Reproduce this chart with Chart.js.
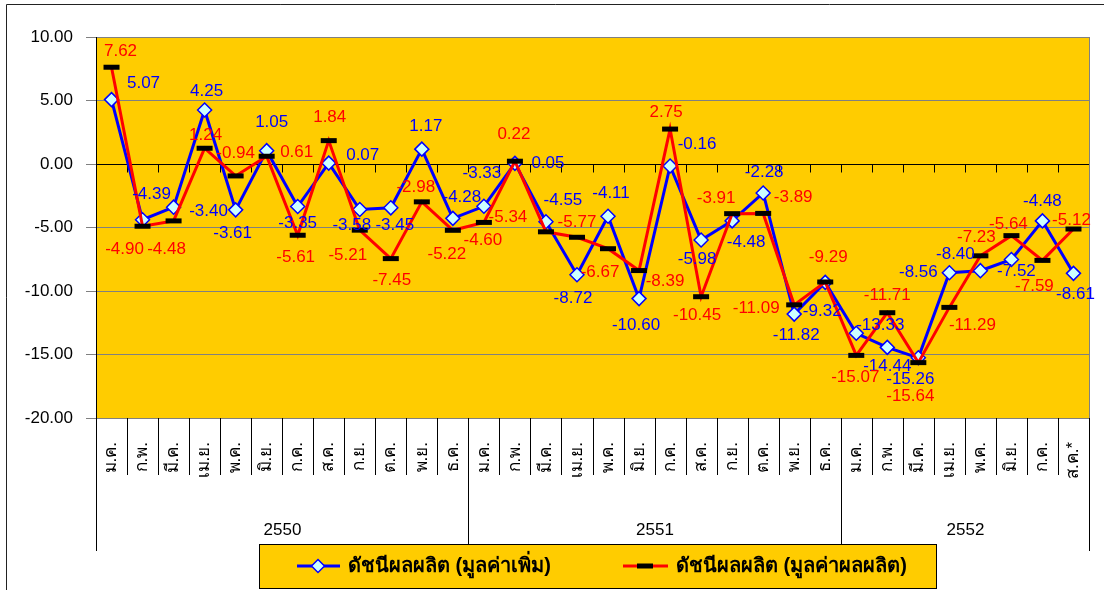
<!DOCTYPE html>
<html>
<head>
<meta charset="utf-8">
<title>ดัชนีผลผลิต</title>
<script src="https://cdn.jsdelivr.net/npm/chart.js@4/dist/chart.umd.min.js"></script>
<style>
    body { margin: 0; background: #fff; }
    #wrap { width: 1104px; height: 590px; }
</style>
</head>
<body>
<div id="wrap"><canvas id="chart" width="1104" height="590"></canvas></div>
<script>
// Categories: months of 2550, 2551 and 2552 (up to Aug, preliminary)
const months = [
    'ม.ค.', 'ก.พ.', 'มี.ค.', 'เม.ย.', 'พ.ค.', 'มิ.ย.', 'ก.ค.', 'ส.ค.', 'ก.ย.', 'ต.ค.', 'พ.ย.', 'ธ.ค.',
    'ม.ค.', 'ก.พ.', 'มี.ค.', 'เม.ย.', 'พ.ค.', 'มิ.ย.', 'ก.ค.', 'ส.ค.', 'ก.ย.', 'ต.ค.', 'พ.ย.', 'ธ.ค.',
    'ม.ค.', 'ก.พ.', 'มี.ค.', 'เม.ย.', 'พ.ค.', 'มิ.ย.', 'ก.ค.', 'ส.ค.*'
];
const years = ['2550', '2551', '2552'];
const monthsPerYear = [12, 12, 8];

// ดัชนีผลผลิต (มูลค่าเพิ่ม)
const valueAdded = [
    5.07, -4.39, -3.40, 4.25, -3.61, 1.05, -3.35, 0.07, -3.58, -3.45, 1.17, -4.28,
    -3.33, 0.05, -4.55, -8.72, -4.11, -10.60, -0.16, -5.98, -4.48, -2.28, -11.82, -9.32,
    -13.33, -14.44, -15.26, -8.56, -8.40, -7.52, -4.48, -8.61
];
// ดัชนีผลผลิต (มูลค่าผลผลิต)
const outputValue = [
    7.62, -4.90, -4.48, 1.24, -0.94, 0.61, -5.61, 1.84, -5.21, -7.45, -2.98, -5.22,
    -4.60, 0.22, -5.34, -5.77, -6.67, -8.39, 2.75, -10.45, -3.91, -3.89, -11.09, -9.29,
    -15.07, -11.71, -15.64, -11.29, -7.23, -5.64, -7.59, -5.12
];

const seriesNames = ['ดัชนีผลผลิต (มูลค่าเพิ่ม)', 'ดัชนีผลผลิต (มูลค่าผลผลิต)'];
const yMin = -20, yMax = 10, yStep = 5;

// where each value label sits relative to its point (px), as placed in the original
const blueLabelShift = [
    [32, -16], [9, -25], [35, 4], [2, -19], [-3, 23], [5, -28], [0, 17], [34, -8],
    [-8, 16], [4, 17], [4, -23], [9, -21], [-2, -33], [33, 0], [17, -21], [-4, 24],
    [3, -23], [-3, 27], [27, -22], [-4, 19], [14, 21], [1, -21], [2, 21], [-3, 29],
    [24, -8], [0, 19], [-8, 22], [-31, 0], [-25, -16], [5, 12], [0, -20], [2, 21]
];
const redLabelShift = [
    [9, -16], [-18, 23], [-7, 28], [1, -13], [0, -23], [30, -4], [-2, 22], [1, -23],
    [-12, 25], [1, 22], [-6, -15], [-6, 24], [-1, 18], [-1, -27], [-38, -15], [0, -15],
    [-8, 24], [26, 11], [-4, -17], [-4, 19], [-16, -15], [30, -16], [-38, 3], [3, -25],
    [-1, 22], [0, -17], [-8, 34], [23, 18], [-4, -19], [-3, -11], [-8, 26], [-2, -9]
];

const FONT = "'Liberation Sans', Arial, Tahoma, sans-serif";
const BLUE = '#0000FF';
const RED = '#FF0000';
const PLOT_BG = '#FFCC00';

function catStep(x) {
    return x.getPixelForValue(1) - x.getPixelForValue(0);
}

const plotBackground = {
    id: 'plotBackground',
    beforeDraw(chart) {
        const { ctx, chartArea: a } = chart;
        ctx.save();
        ctx.fillStyle = '#fff';
        ctx.fillRect(0, 0, chart.width, chart.height);
        ctx.fillStyle = PLOT_BG;
        ctx.fillRect(a.left, a.top, a.right - a.left, a.bottom - a.top);
        ctx.restore();
    },
    beforeDatasetsDraw(chart) {
        const { ctx, chartArea: a, scales: { x, y } } = chart;
        const step = catStep(x);
        const y0 = Math.round(y.getPixelForValue(0)) + 0.5;
        ctx.save();
        // right edge of plot
        ctx.strokeStyle = '#808080';
        ctx.lineWidth = 1;
        ctx.beginPath();
        ctx.moveTo(Math.round(a.right) + 0.5, a.top);
        ctx.lineTo(Math.round(a.right) + 0.5, a.bottom);
        ctx.stroke();
        // category ticks hanging on the zero line
        ctx.strokeStyle = '#000';
        ctx.beginPath();
        for (let i = 1; i < months.length; i++) {
            const px = Math.round(x.getPixelForValue(0) + (i - 0.5) * step) + 0.5;
            ctx.moveTo(px, y0);
            ctx.lineTo(px, y0 + 8);
        }
        ctx.stroke();
        ctx.restore();
    }
};

const valueLabels = {
    id: 'valueLabels',
    afterDatasetsDraw(chart) {
        const { ctx } = chart;
        const shifts = [blueLabelShift, redLabelShift];
        const colors = [BLUE, RED];
        ctx.save();
        ctx.font = '17px ' + FONT;
        ctx.textAlign = 'center';
        ctx.textBaseline = 'middle';
        [0, 1].forEach(di => {
            const meta = chart.getDatasetMeta(di);
            ctx.fillStyle = colors[di];
            meta.data.forEach((pt, i) => {
                const v = chart.data.datasets[di].data[i];
                const s = shifts[di][i];
                ctx.fillText(v.toFixed(2), pt.x + s[0], pt.y + s[1]);
            });
        });
        ctx.restore();
    }
};

const categoryAxis = {
    id: 'categoryAxis',
    afterDraw(chart) {
        const { ctx, chartArea: a, scales: { x } } = chart;
        const step = catStep(x);
        const first = x.getPixelForValue(0) - step / 2;
        const edge = i => Math.round(first + i * step) + 0.5;
        const yearEdges = [0];
        monthsPerYear.forEach(n => yearEdges.push(yearEdges[yearEdges.length - 1] + n));

        ctx.save();
        ctx.strokeStyle = '#000';
        ctx.lineWidth = 1;
        ctx.beginPath();
        for (let i = 0; i <= months.length; i++) {
            const px = i === months.length ? Math.round(a.right) + 0.5 : edge(i);
            const long = yearEdges.includes(i);
            ctx.moveTo(px, a.bottom);
            ctx.lineTo(px, long ? 551 : 475);
        }
        ctx.stroke();

        // month names, rotated
        ctx.fillStyle = '#000';
        ctx.font = '17px ' + FONT;
        ctx.textAlign = 'right';
        ctx.textBaseline = 'middle';
        months.forEach((m, i) => {
            ctx.save();
            ctx.translate(x.getPixelForValue(i), 442);
            ctx.rotate(-Math.PI / 2);
            ctx.fillText(m, 0, 0);
            ctx.restore();
        });

        // year row
        ctx.font = '17px ' + FONT;
        ctx.textAlign = 'center';
        years.forEach((yr, k) => {
            const cx = (edge(yearEdges[k]) + edge(yearEdges[k + 1])) / 2;
            ctx.fillText(yr, cx, 530);
        });

        // outer chart frame
        ctx.strokeStyle = '#222';
        ctx.beginPath();
        ctx.moveTo(6.5, chart.height);
        ctx.lineTo(6.5, 4.5);
        ctx.lineTo(chart.width, 4.5);
        ctx.stroke();
        ctx.restore();
    }
};

const boxLegend = {
    id: 'boxLegend',
    afterDraw(chart) {
        const { ctx } = chart;
        const ly = 566;
        ctx.save();
        ctx.fillStyle = PLOT_BG;
        ctx.fillRect(259.5, 544.5, 677, 44);
        ctx.strokeStyle = '#000';
        ctx.lineWidth = 1;
        ctx.strokeRect(259.5, 544.5, 677, 44);

        // blue entry
        ctx.strokeStyle = BLUE;
        ctx.lineWidth = 3;
        ctx.beginPath();
        ctx.moveTo(297, ly);
        ctx.lineTo(340, ly);
        ctx.stroke();
        ctx.beginPath();
        ctx.moveTo(318, ly - 6.5);
        ctx.lineTo(324.5, ly);
        ctx.lineTo(318, ly + 6.5);
        ctx.lineTo(311.5, ly);
        ctx.closePath();
        ctx.fillStyle = '#CCFFFF';
        ctx.fill();
        ctx.lineWidth = 1.5;
        ctx.stroke();

        // red entry
        ctx.strokeStyle = RED;
        ctx.lineWidth = 3;
        ctx.beginPath();
        ctx.moveTo(623, ly);
        ctx.lineTo(668, ly);
        ctx.stroke();
        ctx.strokeStyle = '#000';
        ctx.lineWidth = 5;
        ctx.beginPath();
        ctx.moveTo(637, ly);
        ctx.lineTo(653, ly);
        ctx.stroke();

        ctx.fillStyle = '#000';
        ctx.font = 'bold 20px ' + FONT;
        ctx.textAlign = 'left';
        ctx.textBaseline = 'middle';
        ctx.fillText(seriesNames[0], 348, ly);
        ctx.fillText(seriesNames[1], 676, ly);
        ctx.restore();
    }
};

new Chart(document.getElementById('chart'), {
    type: 'line',
    data: {
        labels: months,
        datasets: [
            {
                label: seriesNames[0],
                data: valueAdded,
                borderColor: BLUE,
                borderWidth: 3,
                pointStyle: 'rectRot',
                pointRadius: 7,
                pointBackgroundColor: '#CCFFFF',
                pointBorderColor: BLUE,
                pointBorderWidth: 1.5,
                tension: 0,
                order: 2
            },
            {
                label: seriesNames[1],
                data: outputValue,
                borderColor: RED,
                borderWidth: 3,
                pointStyle: 'line',
                pointRadius: 8,
                pointBorderColor: '#000',
                pointBorderWidth: 5,
                tension: 0,
                order: 1
            }
        ]
    },
    options: {
        responsive: false,
        animation: false,
        devicePixelRatio: 1,
        layout: { padding: { top: 37, right: 15, bottom: 172, left: 0 } },
        plugins: {
            legend: { display: false },
            tooltip: { enabled: false }
        },
        scales: {
            x: {
                type: 'category',
                offset: true,
                display: false
            },
            y: {
                min: yMin,
                max: yMax,
                afterFit(scale) { scale.width = 96; },
                ticks: {
                    stepSize: yStep,
                    padding: 13,
                    color: '#000',
                    font: { family: FONT, size: 17 },
                    callback: v => v.toFixed(2)
                },
                grid: {
                    color: c => (c.tick && c.tick.value === 0 ? '#000' : '#808080'),
                    tickColor: '#808080',
                    tickLength: 10,
                    lineWidth: 1
                },
                border: { display: true, color: '#000', width: 1 }
            }
        }
    },
    plugins: [plotBackground, valueLabels, categoryAxis, boxLegend]
});
</script>
</body>
</html>
